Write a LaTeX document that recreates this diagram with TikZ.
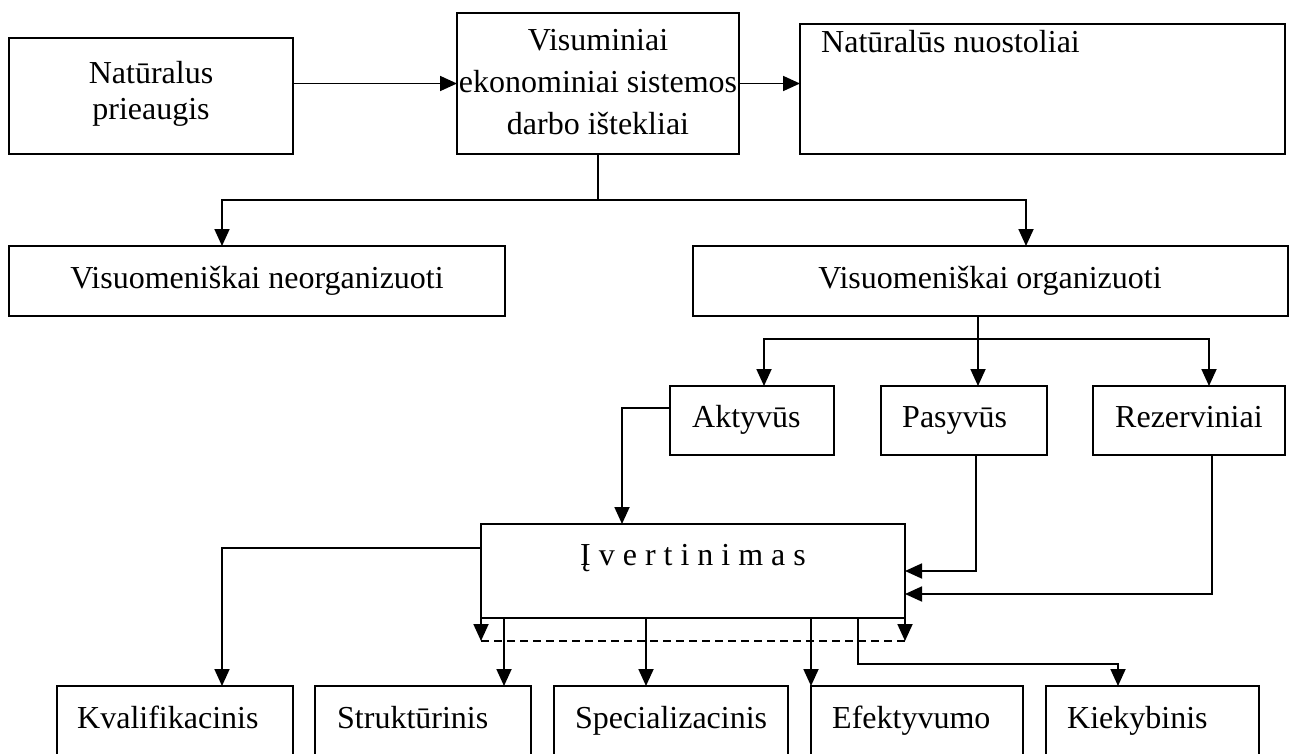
\documentclass[tikz,border=0pt]{standalone}
\usepackage{fontspec}
\setmainfont{Liberation Serif}
\usetikzlibrary{arrows.meta,fit}
\begin{document}
\begin{tikzpicture}[x=1pt,y=-1pt,
  box/.style={draw, line width=1.8pt, inner sep=0pt, outer sep=0pt},
  lbl/.style={inner sep=0pt, font=\fontsize{32}{36}\selectfont},
  conn/.style={line width=1.8pt, -{Triangle[length=17pt,width=15pt]}},
  link/.style={line width=1.8pt},
  dashlink/.style={line width=1.8pt, dash pattern=on 8pt off 5pt}]
\useasboundingbox (0,0) rectangle (1293,753);
\clip (0,0) rectangle (1293,753);

% top row
\node[box, fit={(9,38) (293,154)}] (nat) {};
\node[box, fit={(457,13) (739,154)}] (vis) {};
\node[box, fit={(800,24) (1285,154)}] (nuo) {};
\node[lbl, align=center, font=\fontsize{32}{36}\selectfont] (natT) at (151,94) {Natūralus\\prieaugis};
\node[lbl, align=center, font=\fontsize{32}{42}\selectfont] (visT) at (598,82) {Visuminiai\\ekonominiai sistemos\\darbo ištekliai};
\node[lbl, anchor=base west] (nuoT) at (821,52) {Natūralūs nuostoliai};

% second row
\node[box, fit={(9,246) (505,316)}] (neo) {};
\node[box, fit={(693,246) (1288,316)}] (org) {};
\node[lbl, anchor=base] (neoT) at (257,288) {Visuomeniškai neorganizuoti};
\node[lbl, anchor=base] (orgT) at (990,288) {Visuomeniškai organizuoti};

% third row
\node[box, fit={(670,386) (834,455)}] (akt) {};
\node[box, fit={(881,386) (1047,455)}] (pas) {};
\node[box, fit={(1093,386) (1285,455)}] (rez) {};
\node[lbl, anchor=base west] (aktT) at (692,427) {Aktyvūs};
\node[lbl, anchor=base west] (pasT) at (902,427) {Pasyvūs};
\node[lbl, anchor=base west] (rezT) at (1115,427) {Rezerviniai};

% evaluation box
\node[box, fit={(481,524) (905,618)}] (ivt) {};
\node[lbl, anchor=base] (ivtT) at (693,565) {Į v e r t i n i m a s};

% bottom row
\node[box, fit={(57,686) (293,756)}] (kva) {};
\node[box, fit={(315,686) (531,756)}] (str) {};
\node[box, fit={(554,686) (788,756)}] (spe) {};
\node[box, fit={(811,686) (1023,756)}] (efe) {};
\node[box, fit={(1046,686) (1259,756)}] (kie) {};
\node[lbl, anchor=base west] (kvaT) at (77,728) {Kvalifikacinis};
\node[lbl, anchor=base west] (strT) at (337,728) {Struktūrinis};
\node[lbl, anchor=base west] (speT) at (575,728) {Specializacinis};
\node[lbl, anchor=base west] (efeT) at (832,728) {Efektyvumo};
\node[lbl, anchor=base west] (kieT) at (1067,728) {Kiekybinis};

% junction points
\coordinate (j1) at (598,200);
\coordinate (j2) at (978,339);
\coordinate (dl) at (481,641);
\coordinate (dr) at (905,641);

% connectors, top part
\draw[conn] (vis.west -| nat.east) -- (vis.west);
\draw[conn] (vis.east) -- (vis.east -| nuo.west);
\draw[link] (vis.south) -- (j1);
\draw[conn] (j1) -| (222,0 |- neo.north);
\draw[conn] (j1) -| (1026,0 |- org.north);

% connectors, organised resources
\draw[link] (978,0 |- org.south) -- (j2);
\draw[conn] (j2) -| (764,0 |- akt.north);
\draw[conn] (j2) -- (978,0 |- pas.north);
\draw[conn] (j2) -| (1209,0 |- rez.north);

% into the evaluation box
\draw[conn] (akt.west |- 0,408) -| (622,0 |- ivt.north);
\draw[conn] (976,0 |- pas.south) |- (ivt.east |- 0,571);
\draw[conn] (1212,0 |- rez.south) |- (ivt.east |- 0,594);

% out of the evaluation box
\draw[conn] (ivt.west |- 0,548) -| (222,0 |- kva.north);
\draw[conn] (504,0 |- ivt.south) -- (504,0 |- str.north);
\draw[conn] (646,0 |- ivt.south) -- (646,0 |- spe.north);
\draw[conn] (811,0 |- ivt.south) -- (811,0 |- efe.north);
\draw[conn] (858,0 |- ivt.south) |- (1118,664) -- (1118,0 |- kie.north);
\draw[conn] (ivt.south west) -- (dl);
\draw[conn] (ivt.south east) -- (dr);
\draw[dashlink] (dl) -- (dr);
\end{tikzpicture}
\end{document}
